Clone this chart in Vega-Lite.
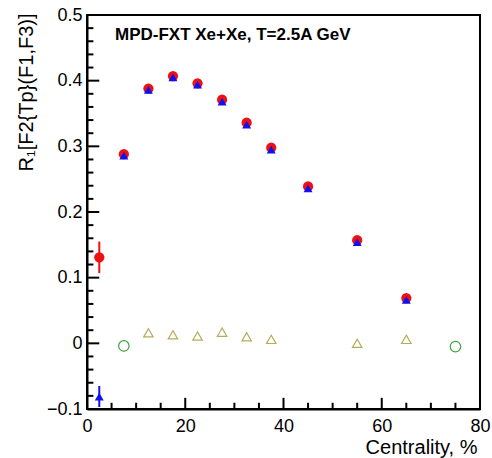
{
  "$schema": "https://vega.github.io/schema/vega-lite/v6.json",
  "width": 393,
  "height": 394,
  "autosize": {"type": "none"},
  "padding": {"left": 87, "top": 15, "right": 12, "bottom": 49},
  "background": "white",
  "config": {
    "view": {"stroke": "black", "strokeWidth": 2},
    "font": "Liberation Sans",
    "axis": {
      "domainColor": "black",
      "domainWidth": 2,
      "labelColor": "black",
      "labelFont": "Liberation Sans",
      "labelFontSize": 18,
      "titleFont": "Liberation Sans",
      "titleFontSize": 20,
      "titleFontWeight": "normal",
      "titleColor": "black",
      "grid": false
    }
  },
  "datasets": {
    "pts": [
      {"c": 2.5, "v": 0.131, "lo": 0.107, "hi": 0.155, "s": "red"},
      {"c": 7.5, "v": 0.288, "s": "red"},
      {"c": 12.5, "v": 0.388, "s": "red"},
      {"c": 17.5, "v": 0.407, "s": "red"},
      {"c": 22.5, "v": 0.396, "s": "red"},
      {"c": 27.5, "v": 0.371, "s": "red"},
      {"c": 32.5, "v": 0.336, "s": "red"},
      {"c": 37.5, "v": 0.298, "s": "red"},
      {"c": 45, "v": 0.239, "s": "red"},
      {"c": 55, "v": 0.157, "s": "red"},
      {"c": 65, "v": 0.069, "s": "red"},
      {"c": 2.5, "v": -0.081, "lo": -0.097, "hi": -0.065, "s": "blue"},
      {"c": 7.5, "v": 0.286, "s": "blue"},
      {"c": 12.5, "v": 0.386, "s": "blue"},
      {"c": 17.5, "v": 0.405, "s": "blue"},
      {"c": 22.5, "v": 0.394, "s": "blue"},
      {"c": 27.5, "v": 0.368, "s": "blue"},
      {"c": 32.5, "v": 0.333, "s": "blue"},
      {"c": 37.5, "v": 0.295, "s": "blue"},
      {"c": 45, "v": 0.236, "s": "blue"},
      {"c": 55, "v": 0.154, "s": "blue"},
      {"c": 65, "v": 0.066, "s": "blue"},
      {"c": 7.5, "v": -0.004, "s": "green"},
      {"c": 75, "v": -0.005, "s": "green"},
      {"c": 12.5, "v": 0.016, "s": "olive"},
      {"c": 17.5, "v": 0.013, "s": "olive"},
      {"c": 22.5, "v": 0.011, "s": "olive"},
      {"c": 27.5, "v": 0.017, "s": "olive"},
      {"c": 32.5, "v": 0.010, "s": "olive"},
      {"c": 37.5, "v": 0.006, "s": "olive"},
      {"c": 55, "v": 0.000, "s": "olive"},
      {"c": 65, "v": 0.006, "s": "olive"}
    ],
    "xticks": [
      {"t": 0, "major": true}, {"t": 5, "major": false}, {"t": 10, "major": false}, {"t": 15, "major": false},
      {"t": 20, "major": true}, {"t": 25, "major": false}, {"t": 30, "major": false}, {"t": 35, "major": false},
      {"t": 40, "major": true}, {"t": 45, "major": false}, {"t": 50, "major": false}, {"t": 55, "major": false},
      {"t": 60, "major": true}, {"t": 65, "major": false}, {"t": 70, "major": false}, {"t": 75, "major": false},
      {"t": 80, "major": true}
    ],
    "yticks": [
      {"t": -0.1, "major": true}, {"t": -0.08, "major": false}, {"t": -0.06, "major": false}, {"t": -0.04, "major": false}, {"t": -0.02, "major": false},
      {"t": 0, "major": true}, {"t": 0.02, "major": false}, {"t": 0.04, "major": false}, {"t": 0.06, "major": false}, {"t": 0.08, "major": false},
      {"t": 0.1, "major": true}, {"t": 0.12, "major": false}, {"t": 0.14, "major": false}, {"t": 0.16, "major": false}, {"t": 0.18, "major": false},
      {"t": 0.2, "major": true}, {"t": 0.22, "major": false}, {"t": 0.24, "major": false}, {"t": 0.26, "major": false}, {"t": 0.28, "major": false},
      {"t": 0.3, "major": true}, {"t": 0.32, "major": false}, {"t": 0.34, "major": false}, {"t": 0.36, "major": false}, {"t": 0.38, "major": false},
      {"t": 0.4, "major": true}, {"t": 0.42, "major": false}, {"t": 0.44, "major": false}, {"t": 0.46, "major": false}, {"t": 0.48, "major": false},
      {"t": 0.5, "major": true}
    ]
  },
  "layer": [
    {
      "data": {"name": "pts"},
      "transform": [{"filter": "datum.s === 'red' && isValid(datum.lo)"}],
      "mark": {"type": "rule", "color": "#ee1111", "strokeWidth": 2},
      "encoding": {
        "x": {"field": "c", "type": "quantitative", "scale": {"domain": [0, 80], "nice": false, "zero": false},
          "axis": {
            "orient": "bottom",
            "values": [0, 20, 40, 60, 80],
            "ticks": false,
            "labelPadding": 8,
            "labelFlush": false,
            "labelOverlap": false,
            "title": "Centrality, %",
            "titleX": 390,
            "titleY": 44,
            "titleAlign": "right",
            "titleBaseline": "alphabetic",
            "titleAnchor": null
          }},
        "y": {"field": "lo", "type": "quantitative", "scale": {"domain": [-0.1, 0.5], "nice": false, "zero": false},
          "axis": {
            "orient": "left",
            "values": [-0.1, 0, 0.1, 0.2, 0.3, 0.4, 0.5],
            "ticks": false,
            "labelExpr": "datum.value === 0 ? '0' : format(datum.value, '.1f')",
            "labelPadding": 5,
            "labelFlush": false,
            "labelOverlap": false,
            "title": "R₁[F2{Tp}(F1,F3)]",
            "titleX": -55,
            "titleY": -2,
            "titleAngle": -90,
            "titleAlign": "right",
            "titleBaseline": "alphabetic",
            "titleAnchor": null
          }},
        "y2": {"field": "hi"}
      }
    },
    {
      "data": {"name": "xticks"},
      "transform": [{"filter": "datum.major"}],
      "mark": {"type": "rule", "color": "black", "strokeWidth": 2},
      "encoding": {
        "x": {"field": "t", "type": "quantitative"},
        "y": {"datum": -0.1, "type": "quantitative"},
        "y2": {"datum": -0.083}
      }
    },
    {
      "data": {"name": "xticks"},
      "transform": [{"filter": "!datum.major"}],
      "mark": {"type": "rule", "color": "black", "strokeWidth": 2},
      "encoding": {
        "x": {"field": "t", "type": "quantitative"},
        "y": {"datum": -0.1, "type": "quantitative"},
        "y2": {"datum": -0.0905}
      }
    },
    {
      "data": {"name": "yticks"},
      "transform": [{"filter": "datum.major"}],
      "mark": {"type": "rule", "color": "black", "strokeWidth": 2},
      "encoding": {
        "y": {"field": "t", "type": "quantitative"},
        "x": {"datum": 0, "type": "quantitative"},
        "x2": {"datum": 2.5}
      }
    },
    {
      "data": {"name": "yticks"},
      "transform": [{"filter": "!datum.major"}],
      "mark": {"type": "rule", "color": "black", "strokeWidth": 2},
      "encoding": {
        "y": {"field": "t", "type": "quantitative"},
        "x": {"datum": 0, "type": "quantitative"},
        "x2": {"datum": 1.3}
      }
    },
    {
      "data": {"name": "pts"},
      "transform": [{"filter": "datum.s === 'blue' && isValid(datum.lo)"}],
      "mark": {"type": "rule", "color": "#1111ee", "strokeWidth": 2},
      "encoding": {
        "x": {"field": "c", "type": "quantitative"},
        "y": {"field": "lo", "type": "quantitative"},
        "y2": {"field": "hi"}
      }
    },
    {
      "data": {"name": "pts"},
      "transform": [{"filter": "datum.s === 'red'"}],
      "mark": {"type": "point", "shape": "circle", "filled": true, "color": "#ee1111", "opacity": 1, "size": 105},
      "encoding": {
        "x": {"field": "c", "type": "quantitative"},
        "y": {"field": "v", "type": "quantitative"}
      }
    },
    {
      "data": {"name": "pts"},
      "transform": [{"filter": "datum.s === 'blue'"}],
      "mark": {"type": "point", "shape": "triangle-up", "filled": true, "color": "#1111ee", "opacity": 1, "size": 80},
      "encoding": {
        "x": {"field": "c", "type": "quantitative"},
        "y": {"field": "v", "type": "quantitative"}
      }
    },
    {
      "data": {"name": "pts"},
      "transform": [{"filter": "datum.s === 'green'"}],
      "mark": {"type": "point", "shape": "circle", "filled": false, "color": "#3fa33f", "opacity": 1, "size": 110, "strokeWidth": 1.2},
      "encoding": {
        "x": {"field": "c", "type": "quantitative"},
        "y": {"field": "v", "type": "quantitative"}
      }
    },
    {
      "data": {"name": "pts"},
      "transform": [{"filter": "datum.s === 'olive'"}],
      "mark": {"type": "point", "shape": "triangle-up", "filled": false, "color": "#b5ad5a", "opacity": 1, "size": 90, "strokeWidth": 1.2},
      "encoding": {
        "x": {"field": "c", "type": "quantitative"},
        "y": {"field": "v", "type": "quantitative"}
      }
    },
    {
      "data": {"values": [{}]},
      "mark": {"type": "text", "text": "MPD-FXT Xe+Xe, T=2.5A GeV", "font": "Liberation Sans", "fontSize": 17, "fontWeight": "bold", "align": "left", "baseline": "alphabetic", "color": "black"},
      "encoding": {
        "x": {"datum": 5.7, "type": "quantitative"},
        "y": {"datum": 0.462, "type": "quantitative"}
      }
    }
  ]
}
